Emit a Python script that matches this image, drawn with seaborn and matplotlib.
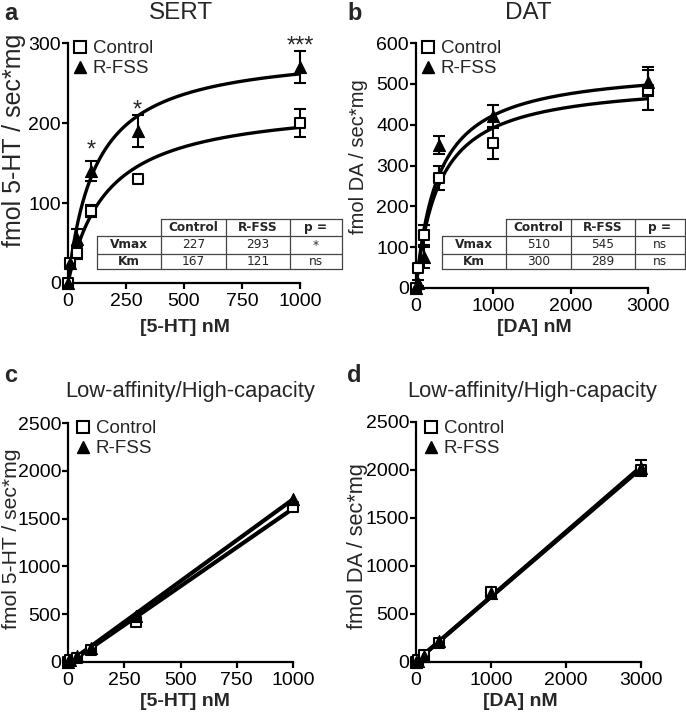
import numpy as np
import pandas as pd
import matplotlib
matplotlib.use("Agg")
import matplotlib.pyplot as plt
from matplotlib.lines import Line2D
import seaborn as sns

# ---------------- data ----------------
sert_x = [0, 10, 40, 100, 300, 1000]
sert_ctrl = [0, 25, 38, 90, 130, 200]
sert_ctrl_err = [0, 5, 8, 8, 4, 18]
sert_rfss = [0, 25, 55, 140, 190, 270]
sert_rfss_err = [0, 5, 12, 12, 20, 20]
sert_vmax = {"Control": 227, "R-FSS": 293}
sert_km = {"Control": 167, "R-FSS": 121}
sert_p = ["*", "ns"]
sert_stars_x = [100, 300, 1000]
sert_stars = ["*", "*", "***"]

dat_x = [0, 30, 100, 300, 1000, 3000]
dat_ctrl = [0, 50, 130, 270, 355, 485]
dat_ctrl_err = [0, 10, 25, 30, 40, 50]
dat_rfss = [0, 12, 75, 350, 420, 505]
dat_rfss_err = [0, 8, 25, 22, 28, 35]
dat_vmax = {"Control": 510, "R-FSS": 545}
dat_km = {"Control": 300, "R-FSS": 289}
dat_p = ["ns", "ns"]

low_sert_x = [0, 10, 40, 100, 300, 1000]
low_sert_ctrl = [0, 20, 45, 130, 420, 1620]
low_sert_rfss = [0, 25, 60, 145, 480, 1710]

low_dat_x = [0, 30, 100, 300, 1000, 3000]
low_dat_ctrl = [0, 20, 70, 200, 730, 2000]
low_dat_rfss = [0, 15, 60, 215, 720, 2020]
low_dat_rfss_err = [0, 5, 10, 20, 30, 80]

series = ["Control", "R-FSS"]
table_cols = ["Control", "R-FSS", "p ="]

# ---------------- style ----------------
sns.set_theme(style="ticks")
plt.rcParams["font.family"] = ["Liberation Sans", "DejaVu Sans"]
plt.rcParams["axes.linewidth"] = 1.6
plt.rcParams["xtick.major.width"] = 1.6
plt.rcParams["ytick.major.width"] = 1.6
plt.rcParams["xtick.major.size"] = 4
plt.rcParams["ytick.major.size"] = 4
plt.rcParams["xtick.color"] = "black"
plt.rcParams["ytick.color"] = "black"
plt.rcParams["axes.edgecolor"] = "black"

W, H = 686, 720
fig = plt.figure(figsize=(W / 100, H / 100), dpi=100)


def rect(l, r, t, b):
    return [l / W, 1 - b / H, (r - l) / W, (b - t) / H]


def fx(x):
    return x / W


def fy(y):
    return 1 - y / H


TICK_FS = 14
MS_SQ = 62
MS_TR = 75


def style_axes(ax, xlim, ylim, xticks, yticks):
    ax.set_xlim(*xlim)
    ax.set_ylim(*ylim)
    ax.set_xticks(xticks)
    ax.set_yticks(yticks)
    sns.despine(ax=ax)
    ax.tick_params(axis="both", labelsize=TICK_FS, direction="out")
    ax.tick_params(axis="y", pad=1)
    ax.tick_params(axis="x", pad=3)
    ax.set_xlabel("")
    ax.set_ylabel("")


def points(ax, x, y, err, marker):
    if err is not None:
        eb = ax.errorbar(x, y, yerr=err, fmt="none", ecolor="black",
                         elinewidth=1.5, capsize=4, capthick=1.5, zorder=3)
        for art in list(eb.lines[1]) + list(eb.lines[2]):
            art.set_clip_on(False)
    if marker == "s":
        sns.scatterplot(x=x, y=y, ax=ax, marker="s", s=MS_SQ, facecolor="white",
                        edgecolor="black", linewidth=1.5, zorder=4, clip_on=False)
    else:
        sns.scatterplot(x=x, y=y, ax=ax, marker="^", s=MS_TR, color="black",
                        edgecolor="black", linewidth=0.8, zorder=5, clip_on=False)


def legend(ax, x, y):
    handles = [Line2D([], [], marker="s", ls="", markersize=8, mfc="white", mec="black", mew=1.5),
               Line2D([], [], marker="^", ls="", markersize=8, mfc="black", mec="black")]
    ax.legend(handles, series, loc="upper left", bbox_to_anchor=(fx(x), fy(y)),
              bbox_transform=fig.transFigure, frameon=False, fontsize=13.5,
              borderpad=0, borderaxespad=0, handlelength=0.8, handletextpad=0.3,
              labelspacing=0.15)


def mm_curve(ax, xmax, vmax, km):
    xs = np.linspace(0, xmax, 300)
    ys = vmax * xs / (km + xs)
    sns.lineplot(x=xs, y=ys, ax=ax, color="black", lw=2.4, zorder=2)


def table(x0, xh, c1, c2, xr, t, r1, r2, b, vmax, km, p):
    lc = "#444444"
    lw = 0.9
    segs = [((xh, t), (xr, t)), ((x0, r1), (xr, r1)), ((x0, r2), (xr, r2)), ((x0, b), (xr, b)),
            ((x0, r1), (x0, b)), ((xh, t), (xh, b)), ((c1, t), (c1, b)), ((c2, t), (c2, b)),
            ((xr, t), (xr, b))]
    for (a, bb), (c, d) in segs:
        fig.add_artist(Line2D([fx(a), fx(c)], [fy(bb), fy(d)], color=lc, lw=lw))
    colc = [(xh + c1) / 2, (c1 + c2) / 2, (c2 + xr) / 2]
    rowc = [(t + r1) / 2, (r1 + r2) / 2, (r2 + b) / 2]
    fs = 8.7
    for cx, lab in zip(colc, table_cols):
        fig.text(fx(cx), fy(rowc[0]), lab, ha="center", va="center", fontsize=fs,
                 fontweight="bold", family="DejaVu Sans")
    rows = [("Vmax", [vmax["Control"], vmax["R-FSS"], p[0]]),
            ("Km", [km["Control"], km["R-FSS"], p[1]])]
    for ri, (name, vals) in enumerate(rows):
        yy = fy(rowc[ri + 1])
        fig.text(fx((x0 + xh) / 2), yy, name, ha="center", va="center", fontsize=fs,
                 fontweight="bold", family="DejaVu Sans")
        for cx, v in zip(colc, vals):
            fig.text(fx(cx), yy, str(v), ha="center", va="center", fontsize=fs,
                     family="DejaVu Sans")


# ---------------- panel a ----------------
axa = fig.add_axes(rect(68, 300, 43, 283))
for s, yv, ev, mk in [("Control", sert_ctrl, sert_ctrl_err, "s"), ("R-FSS", sert_rfss, sert_rfss_err, "^")]:
    mm_curve(axa, 1000, sert_vmax[s], sert_km[s])
    points(axa, sert_x, yv, ev, mk)
style_axes(axa, (0, 1000), (0, 300), [0, 250, 500, 750, 1000], [0, 100, 200, 300])
legend(axa, 72, 40)
star_y = [166, 216, 295]
for sx, st, sy in zip(sert_stars_x, sert_stars, star_y):
    axa.text(sx, sy, st, ha="center", va="center", fontsize=17, clip_on=False)

# ---------------- panel b ----------------
axb = fig.add_axes(rect(416, 648, 43, 288))
for s, yv, ev, mk in [("Control", dat_ctrl, dat_ctrl_err, "s"), ("R-FSS", dat_rfss, dat_rfss_err, "^")]:
    mm_curve(axb, 3000, dat_vmax[s], dat_km[s])
    points(axb, dat_x, yv, ev, mk)
style_axes(axb, (0, 3000), (0, 600), [0, 1000, 2000, 3000], [0, 100, 200, 300, 400, 500, 600])
legend(axb, 420, 40)

# ---------------- panel c ----------------
axc = fig.add_axes(rect(68, 293, 423, 662))
for yv in [low_sert_ctrl, low_sert_rfss]:
    sns.regplot(x=low_sert_x, y=yv, ax=axc, ci=None, scatter=False,
                line_kws=dict(color="black", lw=3, zorder=2))
points(axc, low_sert_x, low_sert_ctrl, None, "s")
points(axc, low_sert_x, low_sert_rfss, None, "^")
style_axes(axc, (0, 1000), (0, 2500), [0, 250, 500, 750, 1000], [0, 500, 1000, 1500, 2000, 2500])
legend(axc, 75, 420)

# ---------------- panel d ----------------
axd = fig.add_axes(rect(416, 641, 422, 662))
for yv in [low_dat_ctrl, low_dat_rfss]:
    sns.regplot(x=low_dat_x, y=yv, ax=axd, ci=None, scatter=False,
                line_kws=dict(color="black", lw=3, zorder=2))
points(axd, low_dat_x, low_dat_ctrl, None, "s")
points(axd, low_dat_x, low_dat_rfss, low_dat_rfss_err, "^")
style_axes(axd, (0, 3000), (0, 2500), [0, 1000, 2000, 3000], [0, 500, 1000, 1500, 2000, 2500])
legend(axd, 423, 420)

# ---------------- tables ----------------
table(97, 161, 226, 290, 342, 219, 236, 254, 269, sert_vmax, sert_km, sert_p)
table(442, 506, 571, 635, 685, 219, 236, 254, 269, dat_vmax, dat_km, dat_p)

# ---------------- text ----------------
fig.text(fx(4), fy(13), "a", fontsize=17, fontweight="bold", va="center", ha="left")
fig.text(fx(347), fy(13), "b", fontsize=17, fontweight="bold", va="center", ha="left")
fig.text(fx(4), fy(375), "c", fontsize=17, fontweight="bold", va="center", ha="left")
fig.text(fx(347), fy(375), "d", fontsize=17, fontweight="bold", va="center", ha="left")

fig.text(fx(181), fy(13), "SERT", fontsize=17.5, ha="center", va="center")
fig.text(fx(528), fy(13), "DAT", fontsize=17.5, ha="center", va="center")
fig.text(fx(190), fy(392), "Low-affinity/High-capacity", fontsize=15.8, ha="center", va="center")
fig.text(fx(532), fy(392), "Low-affinity/High-capacity", fontsize=15.8, ha="center", va="center")

fig.text(fx(14), fy(140), "fmol 5-HT / sec*mg", fontsize=18, rotation=90, ha="center", va="center")
fig.text(fx(359), fy(157), "fmol DA / sec*mg", fontsize=14.5, rotation=90, ha="center", va="center")
fig.text(fx(12), fy(539), "fmol 5-HT / sec*mg", fontsize=15.2, rotation=90, ha="center", va="center")
fig.text(fx(358), fy(546), "fmol DA / sec*mg", fontsize=15.7, rotation=90, ha="center", va="center")

fig.text(fx(185), fy(328), "[5-HT] nM", fontsize=14, fontweight="bold", ha="center", va="center")
fig.text(fx(534), fy(328), "[DA] nM", fontsize=14, fontweight="bold", ha="center", va="center")
fig.text(fx(185), fy(702), "[5-HT] nM", fontsize=14, fontweight="bold", ha="center", va="center")
fig.text(fx(520), fy(702), "[DA] nM", fontsize=14, fontweight="bold", ha="center", va="center")

fig.savefig("out.png", dpi=100, facecolor="white")
